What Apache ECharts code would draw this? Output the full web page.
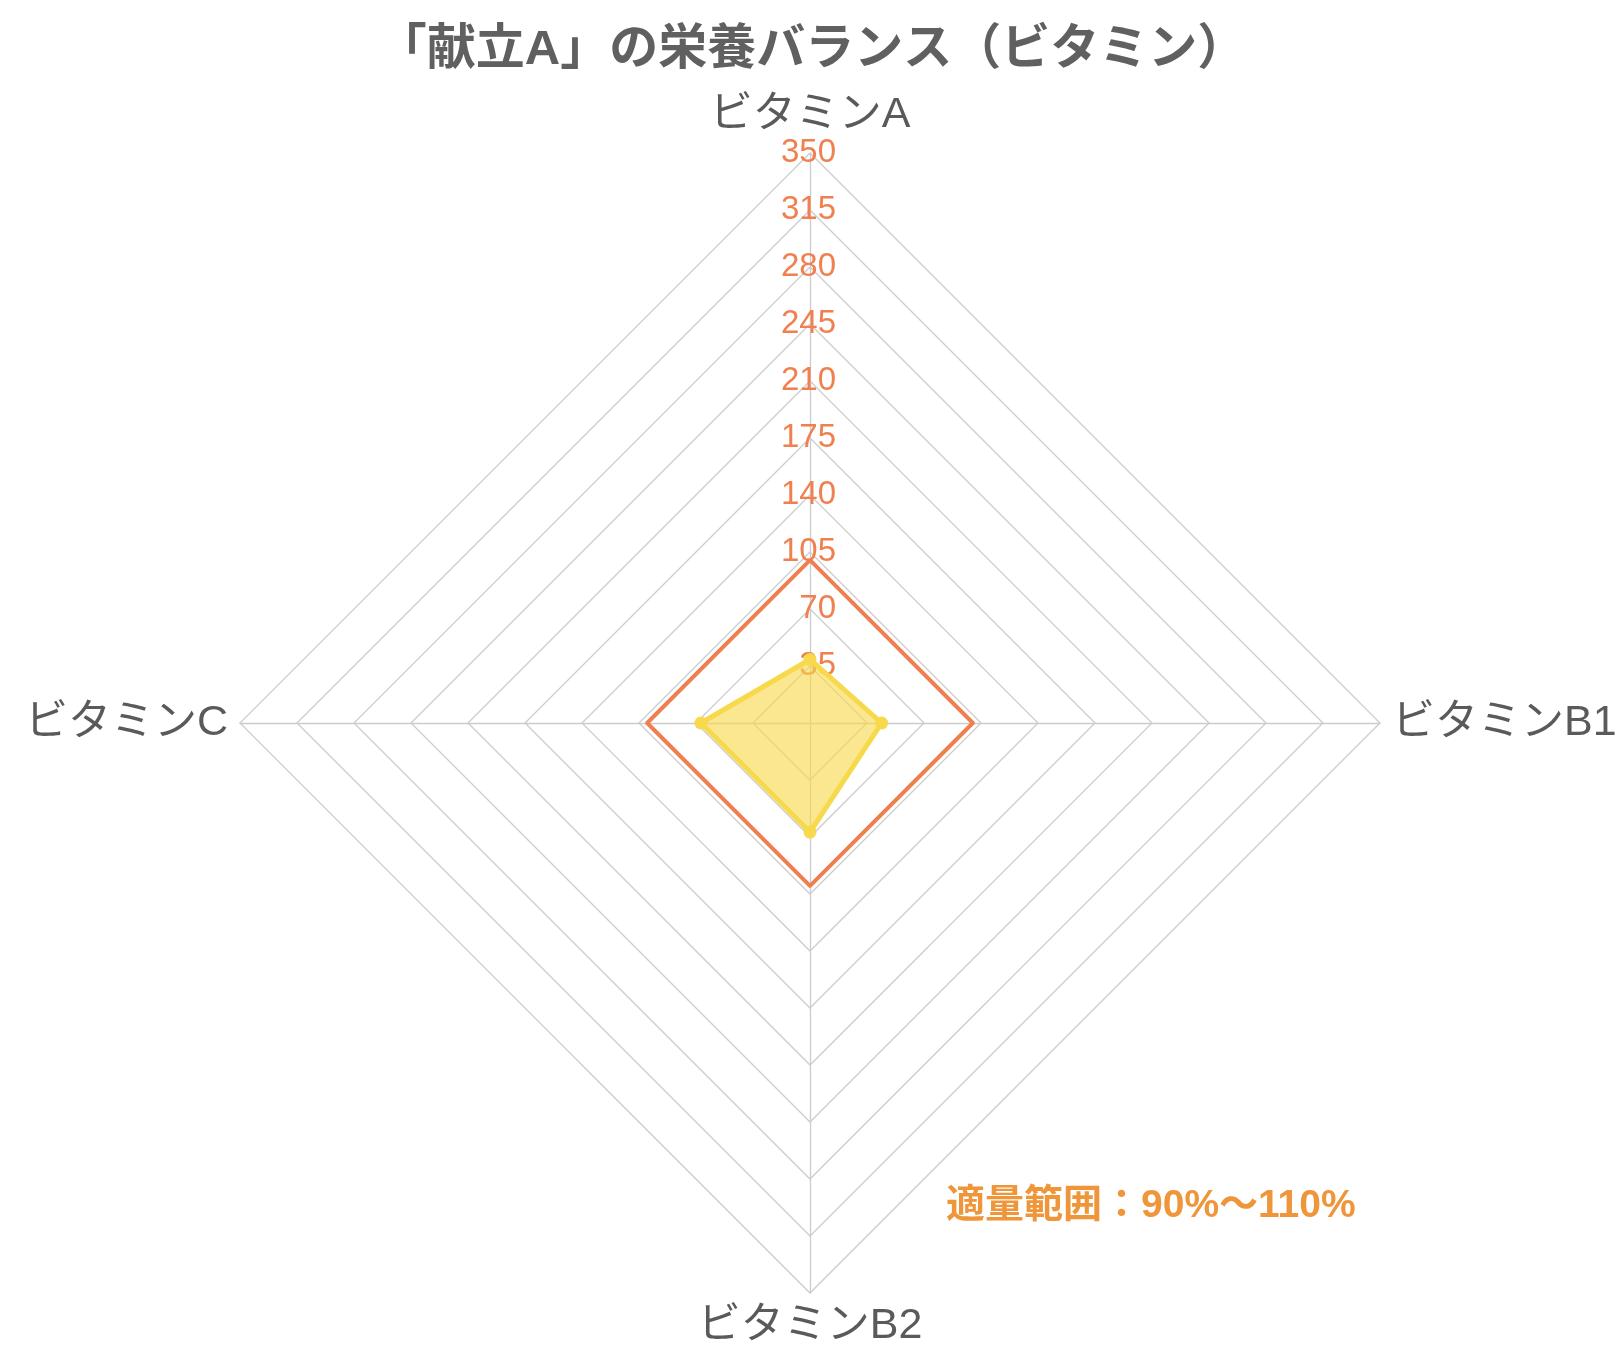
<!DOCTYPE html>
<html><head><meta charset="utf-8">
<script src="https://cdn.jsdelivr.net/npm/echarts@6/dist/echarts.min.js"></script>
<style>html,body{margin:0;padding:0;background:#fff}#c{width:1624px;height:1366px}</style>
</head><body><div id="c"></div>
<script>
const titleText = '「献立A」の栄養バランス（ビタミン）';
// clockwise from top, as in the picture
const indicators = ['ビタミンA', 'ビタミンB1', 'ビタミンB2', 'ビタミンC'];
const maxValue = 350;
const recommended = [100, 100, 100, 100];
const actual = [39, 44, 67, 67];
const noteText = '適量範囲：90%〜110%';

// ECharts radar runs counter-clockwise; reorder so the picture runs clockwise
const order = [0, 3, 2, 1];
const pick = arr => order.map(i => arr[i]);

const FONT = '"Liberation Sans", "Noto Sans CJK JP", sans-serif';
const chart = echarts.init(document.getElementById('c'));
chart.setOption({
  animation: false,
  title: {
    text: titleText, left: 'center', top: 21,
    textStyle: { fontFamily: FONT, fontSize: 49, fontWeight: 'bold', color: '#606060' }
  },
  graphic: [{
    type: 'text', x: 946, y: 1206,
    style: { text: noteText, font: 'bold 39px ' + FONT, fill: '#f0963a', verticalAlign: 'middle' }
  }],
  radar: {
    center: [810, 723], radius: 570, shape: 'polygon', splitNumber: 10, startAngle: 90,
    indicator: pick(indicators).map((n, i) => i === 0
      ? { name: n, max: maxValue, min: 0, axisLabel: { show: true } }
      : { name: n, max: maxValue, min: 0 }),
    axisName: {
      color: '#5a5a5a', fontSize: 43, fontFamily: FONT,
      formatter: function (name) { return name === indicators[0] ? '{t|' + name + '}' : name; },
      rich: { t: { color: '#5a5a5a', fontSize: 43, fontFamily: FONT, padding: [0, 0, -14, 0] } }
    },
    nameGap: 12,
    splitLine: { lineStyle: { color: '#cccccc', width: 1.3 } },
    splitArea: { show: false },
    axisLine: { lineStyle: { color: '#cccccc', width: 1.3 } },
    axisLabel: { show: false, color: '#f0804f', fontSize: 33, fontFamily: '"Liberation Sans", sans-serif', showMinLabel: false, margin: -26 }
  },
  series: [{
    type: 'radar', silent: true,
    data: [
      { value: pick(recommended), symbol: 'none',
        lineStyle: { color: '#ef7f4f', width: 4 }, itemStyle: { color: '#ef7f4f' } },
      { value: pick(actual), symbol: 'circle', symbolSize: 13,
        lineStyle: { color: '#f7d94c', width: 5 }, itemStyle: { color: '#f7d94c' },
        areaStyle: { color: '#f7d94c', opacity: 0.62 } }
    ]
  }]
});
</script></body></html>
